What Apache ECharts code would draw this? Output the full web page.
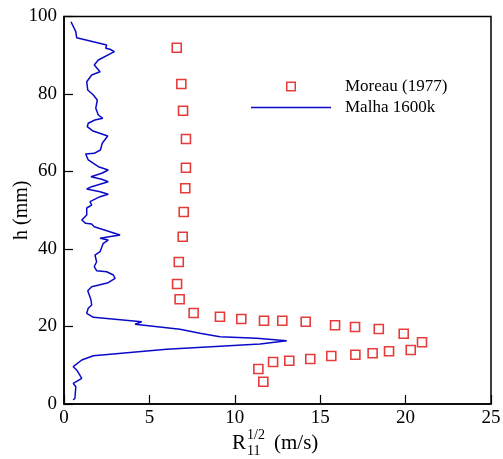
<!DOCTYPE html>
<html>
<head>
<meta charset="utf-8">
<script src="https://cdn.jsdelivr.net/npm/echarts@6/dist/echarts.min.js"></script>
<style>
  html, body { margin: 0; padding: 0; background: #fff; }
  #chart { width: 503px; height: 459px; }
</style>
</head>
<body>
<div id="chart"></div>
<script>
// Moreau (1977) measurements: RMS streamwise fluctuation vs. height
const moreauR = [11.67, 11.38, 12.24, 13.19, 14.42, 15.65, 17.06, 18.07, 19.03, 20.30,
                 20.96, 19.89, 18.43, 17.04, 15.87, 14.15, 12.78, 11.71, 10.38, 9.13,
                 7.59, 6.77, 6.62, 6.72, 6.95, 7.01, 7.10, 7.14, 7.14, 6.97, 6.87, 6.60];
const moreauH = [5.75, 9.03, 10.84, 11.17, 11.61, 12.39, 12.72, 13.08, 13.60, 13.94,
                 15.92, 18.14, 19.35, 19.87, 20.31, 21.24, 21.50, 21.50, 21.94, 22.53,
                 23.48, 27.02, 30.97, 36.65, 43.17, 49.55, 55.66, 60.98, 68.39, 75.69, 82.58, 91.95];

// Simulation profile on the 1600k mesh
const malhaR = [0.41, 0.69, 0.74, 2.50, 2.44, 2.69, 2.95, 2.01, 1.77, 2.11,
                1.62, 1.33, 1.39, 1.72, 1.95, 1.86, 2.01, 2.27, 1.81, 1.42,
                1.36, 1.66, 2.56, 2.24, 2.13, 1.77, 1.27, 1.42, 2.01, 2.59,
                2.21, 1.58, 2.21, 2.59, 1.62, 1.33, 2.11, 2.59, 2.11, 1.52,
                1.62, 1.33, 1.33, 1.04, 1.27, 1.62, 1.77, 3.28, 2.11, 2.59,
                2.30, 2.11, 1.81, 1.91, 1.77, 1.91, 2.50, 2.89, 2.99, 2.59,
                1.62, 1.39, 1.48, 1.58, 1.62, 1.42, 1.33, 1.72, 4.55, 4.16,
                6.79, 7.96, 9.13, 11.28, 13.04, 11.48, 6.01, 1.72, 1.04, 0.54,
                0.74, 0.84, 1.04, 0.54, 0.69, 0.64, 0.54];
const malhaH = [98.65, 96.08, 94.53, 92.65, 91.79, 91.54, 90.92, 88.77, 87.48, 85.75,
                84.90, 83.17, 81.03, 79.74, 78.45, 76.31, 74.58, 73.73, 73.29, 72.44,
                71.56, 70.53, 69.16, 67.28, 65.55, 64.70, 64.52, 62.97, 61.24, 60.39,
                59.54, 58.66, 57.99, 57.37, 56.08, 55.48, 54.79, 54.12, 53.50, 52.21,
                51.35, 50.58, 48.77, 47.48, 46.63, 46.45, 45.75, 43.61, 42.76, 42.32,
                41.47, 39.30, 38.45, 36.72, 35.43, 34.40, 34.14, 33.29, 32.44, 31.30,
                30.27, 29.24, 28.13, 26.84, 25.55, 24.70, 23.41, 22.37, 21.24, 20.57,
                19.28, 18.25, 17.37, 16.95, 16.34, 15.48, 14.12, 12.46, 11.35, 9.63,
                8.77, 8.08, 6.63, 5.34, 4.46, 1.47, 1.03];

const seriesNames = ['Moreau (1977)', 'Malha 1600k'];

const SERIF = 'Liberation Serif';
const RED = '#e00a0a';
const BLUE = '#0a0ac8';

const moreauData = moreauR.map((r, i) => [r, moreauH[i]]);
const malhaData = malhaR.map((r, i) => [r, malhaH[i]]);

const chart = echarts.init(document.getElementById('chart'), null, { renderer: 'canvas' });

chart.setOption({
  animation: false,
  backgroundColor: '#fff',
  grid: {
    left: 64, top: 16.5, right: 12, bottom: 55,
    outerBoundsMode: 'none', containLabel: false,
    show: true, borderColor: '#000', borderWidth: 1.5, backgroundColor: 'transparent'
  },
  xAxis: {
    type: 'value', min: 0, max: 25, interval: 5,
    axisLine: { show: true, onZero: false, lineStyle: { color: '#000', width: 1.5 } },
    axisTick: { show: true, inside: true, length: 9, lineStyle: { color: '#000', width: 1.2 } },
    axisLabel: { color: '#000', fontFamily: SERIF, fontSize: 19, margin: 5 },
    splitLine: { show: false }
  },
  yAxis: {
    type: 'value', min: 0, max: 100, interval: 20,
    name: 'h (mm)', nameLocation: 'middle', nameRotate: 90, nameGap: 32,
    nameMoveOverlap: false,
    nameTextStyle: { color: '#000', fontFamily: SERIF, fontSize: 20 },
    axisLine: { show: true, onZero: false, lineStyle: { color: '#000', width: 1.5 } },
    axisTick: { show: true, inside: true, length: 9, lineStyle: { color: '#000', width: 1.2 } },
    axisLabel: { color: '#000', fontFamily: SERIF, fontSize: 19, margin: 7 },
    splitLine: { show: false }
  },
  legend: {
    orient: 'vertical',
    left: 251, top: 78, padding: 0,
    itemWidth: 80, itemHeight: 10, itemGap: 4,
    symbolKeepAspect: true,
    textStyle: { color: '#000', fontFamily: SERIF, fontSize: 17, padding: [0, 0, 0, 9] },
    data: [
      { name: seriesNames[0], icon: 'path://M0,0H10V10H0Z M1.5,1.5V8.5H8.5V1.5Z',
        itemStyle: { color: RED, borderWidth: 0 } },
      { name: seriesNames[1], icon: 'path://M0,0H80V1.4H0Z',
        itemStyle: { color: BLUE, borderWidth: 0 } }
    ]
  },
  series: [
    {
      name: seriesNames[0], type: 'scatter', data: moreauData,
      symbol: 'rect', symbolSize: 9,
      itemStyle: { color: 'rgba(0,0,0,0)', borderColor: RED, borderWidth: 1.6 },
      z: 3
    },
    {
      name: seriesNames[1], type: 'line', data: malhaData,
      showSymbol: false, symbol: 'none',
      lineStyle: { color: BLUE, width: 1.5 },
      itemStyle: { color: BLUE },
      z: 2
    }
  ],
  graphic: [
    { type: 'text', left: 232, top: 433,
      style: { text: 'R', fill: '#000', font: '21px ' + SERIF } },
    { type: 'text', left: 247, top: 428,
      style: { text: '1/2', fill: '#000', font: '14px ' + SERIF } },
    { type: 'text', left: 247, top: 444,
      style: { text: '11', fill: '#000', font: '14px ' + SERIF } },
    { type: 'text', left: 274, top: 433,
      style: { text: '(m/s)', fill: '#000', font: '21px ' + SERIF } }
  ]
});
</script>
</body>
</html>
